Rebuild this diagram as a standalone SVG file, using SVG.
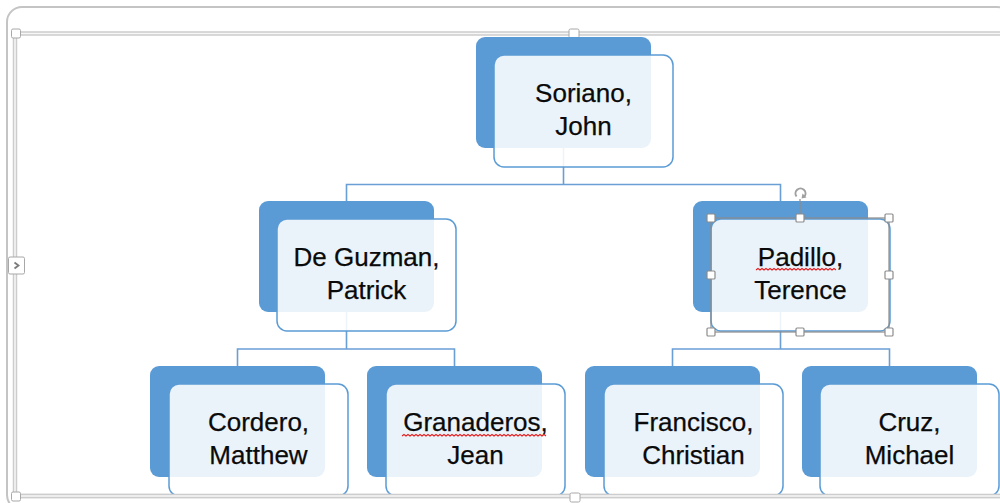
<svg xmlns="http://www.w3.org/2000/svg" width="1000" height="503" viewBox="0 0 1000 503">
  <style>
    .back { fill: #5B9BD5; }
    .front { fill: #ffffff; fill-opacity: 0.88; stroke: #5B9BD5; stroke-width: 1.5; }
    .label { font-family: "Liberation Sans", Arial, sans-serif; font-size: 26px; fill: #0A0A0A; text-anchor: middle; stroke: #0A0A0A; stroke-width: 0.25; }
    .conn { fill: none; stroke: #6A9FD6; stroke-width: 1.6; }
    .squiggle { fill: none; stroke: #E02020; stroke-width: 1.1; }
    .handle { fill: #ffffff; stroke: #A8A8A8; stroke-width: 1; }
    .sel { fill: none; stroke: #8C8C8C; stroke-width: 1.2; }
    .selhandle { fill: #ffffff; stroke: #8C8C8C; stroke-width: 1.2; }
  </style>

  <rect width="1000" height="503" fill="#ffffff"/>

  <!-- canvas frame -->
  <g id="frame">
    <rect x="7" y="7" width="1005" height="503" rx="15" fill="none" stroke="#C4C4C4" stroke-width="2"/>
    <rect x="15" y="33.5" width="1000" height="462.5" fill="none" stroke="#CDCDCD" stroke-width="4.5"/>
    <rect x="15" y="33.5" width="1000" height="462.5" fill="none" stroke="#F7F7F7" stroke-width="1.5"/>
    <rect class="handle" x="11.5" y="29" width="9" height="9" rx="1.5"/>
    <rect class="handle" x="569" y="29" width="10" height="9" rx="1.5"/>
    <rect class="handle" x="8.5" y="257" width="16" height="17" rx="1.5"/>
    <path d="M14.5 262.5 L18.5 265.5 L14.5 268.5" fill="none" stroke="#7A7A7A" stroke-width="1.8"/>
  </g>

  <!-- connectors (drawn under the translucent boxes) -->
  <g id="connectors">
    <path class="conn" d="M563.5 148 V184.5 M346.5 201 V184.5 H780.5 V201"/>
    <path class="conn" d="M346.5 312 V349 M237.5 366 V349 H454.5 V366"/>
    <path class="conn" d="M780.5 312 V349 M672.5 366 V349 H889.5 V366"/>
  </g>

  <g id="node-soriano">
    <rect class="back" x="476" y="37" width="175" height="111" rx="9"/>
    <rect class="front" x="494" y="55" width="179" height="112" rx="10"/>
    <text class="label" x="583.5" y="102">Soriano,</text>
    <text class="label" x="583.5" y="135">John</text>
  </g>

  <g id="node-deguzman">
    <rect class="back" x="259" y="201" width="175" height="111" rx="9"/>
    <rect class="front" x="277" y="219" width="179" height="112" rx="10"/>
    <text class="label" x="366.5" y="266">De Guzman,</text>
    <text class="label" x="366.5" y="299">Patrick</text>
  </g>

  <g id="node-padillo">
    <rect class="back" x="693" y="201" width="175" height="111" rx="9"/>
    <rect class="front" x="711" y="219" width="179" height="112" rx="10"/>
    <text class="label" x="800.5" y="266">Padillo,</text>
    <text class="label" x="800.5" y="299">Terence</text>
    <path class="squiggle" d="M756 270 l2 -1.5 2 1.5 2 -1.5 2 1.5 2 -1.5 2 1.5 2 -1.5 2 1.5 2 -1.5 2 1.5 2 -1.5 2 1.5 2 -1.5 2 1.5 2 -1.5 2 1.5 2 -1.5 2 1.5 2 -1.5 2 1.5 2 -1.5 2 1.5 2 -1.5 2 1.5 2 -1.5 2 1.5 2 -1.5 2 1.5 2 -1.5 2 1.5 2 -1.5 2 1.5 2 -1.5 2 1.5 2 -1.5 2 1.5 2 -1.5 2 1.5 2 -1.5 2 1.5"/>
    <!-- selection outline with sizing and rotate handles -->
    <rect class="sel" x="711" y="218" width="178" height="114"/>
    <line class="sel" x1="800" y1="199" x2="800" y2="214"/>
    <path d="M796.5 196.5 A5 5 0 1 1 804.5 196.5" fill="none" stroke="#A0A0A0" stroke-width="2"/>
    <path d="M802.5 193.5 L806.5 197.5 L801.5 198.5 Z" fill="#A0A0A0"/>
    <rect class="selhandle" x="707" y="214" width="8" height="8" rx="1"/>
    <rect class="selhandle" x="796" y="214" width="8" height="8" rx="1"/>
    <rect class="selhandle" x="885" y="214" width="8" height="8" rx="1"/>
    <rect class="selhandle" x="707" y="271" width="8" height="8" rx="1"/>
    <rect class="selhandle" x="885" y="271" width="8" height="8" rx="1"/>
    <rect class="selhandle" x="707" y="328" width="8" height="8" rx="1"/>
    <rect class="selhandle" x="796" y="328" width="8" height="8" rx="1"/>
    <rect class="selhandle" x="885" y="328" width="8" height="8" rx="1"/>
  </g>

  <g id="node-cordero">
    <rect class="back" x="150" y="366" width="175" height="111" rx="9"/>
    <rect class="front" x="169" y="384" width="179" height="112" rx="10"/>
    <text class="label" x="258.5" y="431">Cordero,</text>
    <text class="label" x="258.5" y="464">Matthew</text>
  </g>

  <g id="node-granaderos">
    <rect class="back" x="367" y="366" width="175" height="111" rx="9"/>
    <rect class="front" x="386" y="384" width="179" height="112" rx="10"/>
    <text class="label" x="475.5" y="431">Granaderos,</text>
    <text class="label" x="475.5" y="464">Jean</text>
    <path class="squiggle" d="M402 436 l2 -1.5 2 1.5 2 -1.5 2 1.5 2 -1.5 2 1.5 2 -1.5 2 1.5 2 -1.5 2 1.5 2 -1.5 2 1.5 2 -1.5 2 1.5 2 -1.5 2 1.5 2 -1.5 2 1.5 2 -1.5 2 1.5 2 -1.5 2 1.5 2 -1.5 2 1.5 2 -1.5 2 1.5 2 -1.5 2 1.5 2 -1.5 2 1.5 2 -1.5 2 1.5 2 -1.5 2 1.5 2 -1.5 2 1.5 2 -1.5 2 1.5 2 -1.5 2 1.5 2 -1.5 2 1.5 2 -1.5 2 1.5 2 -1.5 2 1.5 2 -1.5 2 1.5 2 -1.5 2 1.5 2 -1.5 2 1.5 2 -1.5 2 1.5 2 -1.5 2 1.5 2 -1.5 2 1.5 2 -1.5 2 1.5 2 -1.5 2 1.5 2 -1.5 2 1.5 2 -1.5 2 1.5 2 -1.5 2 1.5 2 -1.5 2 1.5 2 -1.5 2 1.5"/>
  </g>

  <g id="node-francisco">
    <rect class="back" x="585" y="366" width="175" height="111" rx="9"/>
    <rect class="front" x="604" y="384" width="179" height="112" rx="10"/>
    <text class="label" x="693.5" y="431">Francisco,</text>
    <text class="label" x="693.5" y="464">Christian</text>
  </g>

  <g id="node-cruz">
    <rect class="back" x="802" y="366" width="175" height="111" rx="9"/>
    <rect class="front" x="820" y="384" width="179" height="112" rx="10"/>
    <text class="label" x="909.5" y="431">Cruz,</text>
    <text class="label" x="909.5" y="464">Michael</text>
  </g>

  <!-- bottom frame edge passes over the lowest boxes -->
  <g id="frame-bottom">
    <line x1="12.75" y1="496" x2="1000" y2="496" stroke="#CDCDCD" stroke-width="4.5"/>
    <line x1="12.75" y1="496" x2="1000" y2="496" stroke="#F7F7F7" stroke-width="1.5"/>
    <rect class="handle" x="11.5" y="492" width="9" height="9" rx="1.5"/>
    <rect class="handle" x="570" y="493" width="10" height="9" rx="1.5"/>
  </g>
</svg>
